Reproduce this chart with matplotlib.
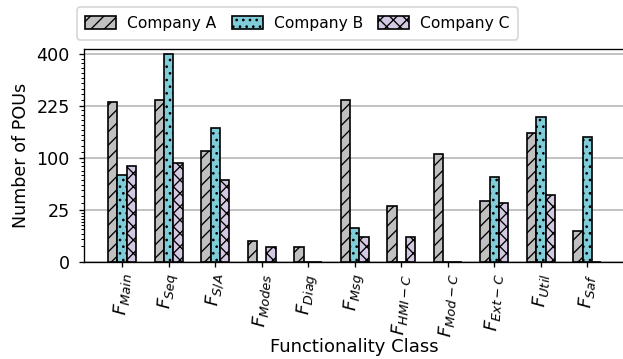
import numpy as np
import matplotlib
matplotlib.use("Agg")
import matplotlib.pyplot as plt

# POU counts per functionality class and company
classes = [r"$F_{Main}$", r"$F_{Seq}$", r"$F_{S/A}$", r"$F_{Modes}$", r"$F_{Diag}$",
           r"$F_{Msg}$", r"$F_{HMI-C}$", r"$F_{Mod-C}$", r"$F_{Ext-C}$",
           r"$F_{Util}$", r"$F_{Saf}$"]
company_a = [238, 242, 115, 4, 2, 244, 29, 108, 34, 153, 9]
company_b = [70, 402, 165, 0, 0, 11, 0, 0, 67, 194, 144]
company_c = [85, 91, 62, 2, 0, 6, 6, 0, 32, 41, 0]
yticks = [0, 25, 100, 225, 400]

plt.rcParams['hatch.linewidth'] = 0.8

dpi = 120
fig = plt.figure(figsize=(623 / dpi, 359 / dpi), dpi=dpi)
ax = fig.add_axes([83.5 / 623, 97 / 359, 542.5 / 623, 213 / 359])

ax.set_yscale('function', functions=(lambda v: np.sqrt(np.clip(v, 0, None)), np.square))

x = np.arange(len(classes))
w = 0.2
series = [
    ("Company A", company_a, "#c0c0c0", "///"),
    ("Company B", company_b, "#80cdda", "..."),
    ("Company C", company_c, "#d4c9e3", "xxx"),
]
for i, (name, vals, col, hatch) in enumerate(series):
    ax.bar(x + (i - 1) * w, vals, w, color=col, edgecolor="black",
           hatch=hatch, linewidth=1.0, label=name, zorder=3)

ax.set_ylim(0, 420)
ax.set_xlim(-0.83, len(classes) - 1 + 0.83)
ax.set_yticks(yticks)
ax.set_yticklabels([str(t) for t in yticks])
minor = []
for lo, hi in zip(yticks[:-1], yticks[1:]):
    minor.extend(np.linspace(lo, hi, 11)[1:-1])
ax.set_yticks(minor, minor=True)
ax.yaxis.grid(True, which="major", color="#b8b8b8", linewidth=1.0, zorder=0)
ax.set_axisbelow(True)

ax.set_xticks(x)
ax.set_xticklabels(classes, rotation=86, fontsize=11)
ax.tick_params(axis="y", which="major", length=2.8, pad=5.5, labelsize=10.5)
ax.tick_params(axis="y", which="minor", length=1.6, width=0.6)
ax.tick_params(axis="x", length=2.8)

ax.set_ylabel("Number of POUs", fontsize=10.5, labelpad=4)
ax.set_xlabel("Functionality Class", fontsize=10.8)
ax.xaxis.set_label_coords(0.5, -0.355)

fig.legend(loc="center", bbox_to_anchor=(297.5 / 623, 1 - 23.5 / 359),
           bbox_transform=fig.transFigure, ncol=3, fontsize=9.3,
           columnspacing=1.0, handletextpad=0.7, handleheight=0.9,
           borderpad=0.55)

fig.savefig("out.png", dpi=dpi)
